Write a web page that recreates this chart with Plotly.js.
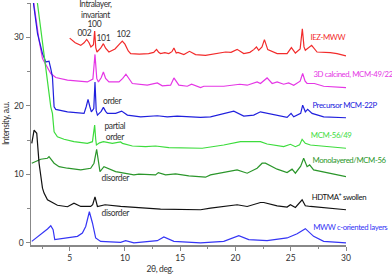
<!DOCTYPE html>
<html><head><meta charset="utf-8">
<script src="https://cdn.plot.ly/plotly-3.0.1.min.js"></script>
<style>html,body{margin:0;padding:0;background:#fff}#c{width:392px;height:277px}
#c .annotation-text{letter-spacing:-0.4px}</style>
</head><body><div id="c"></div>
<script>
// 2θ (deg) and offset intensity (a.u.)
const iezX = [5.00,5.5,6.00,6.3,6.54,6.75,6.92,7.15,7.26,7.36,7.47,7.8,8.05,8.25,8.55,9.1,9.5,9.76,10.0,10.3,10.52,11.3,12.14,12.6,12.86,13.05,13.22,13.61,13.97,14.25,14.43,14.64,14.8,15.33,15.84,16.39,17.29,17.74,18.5,19.10,19.6,20.15,20.75,21.3,21.65,21.90,22.10,22.4,22.62,22.92,23.77,24.67,25.06,25.42,25.85,26.05,26.2,26.32,26.89,27.38,28.58,29.19,30.00];
const iezY = [29.88,29.2,28.82,29.2,29.69,29.2,28.58,28.9,30.90,28.5,27.85,28.4,29.07,28.4,27.85,28.3,29.0,29.45,29.0,28.0,27.62,27.55,27.62,27.8,28.24,27.8,27.62,27.76,27.62,27.9,28.43,27.70,27.8,27.47,27.95,27.47,27.35,27.47,27.6,27.85,27.8,28.24,27.62,27.8,28.20,28.58,28.10,28.6,29.65,28.20,27.62,27.62,28.49,27.70,28.3,31.25,28.6,28.10,28.82,27.85,27.76,27.62,27.27];

const calX = [1.6,1.78,2.23,2.54,3.29,3.74,4.80,6.60,7.1,7.29,7.45,7.60,7.85,8.05,8.25,8.55,9.46,9.8,10.09,10.35,10.67,12.02,12.93,13.38,14.13,14.43,14.88,15.64,16.03,16.84,17.14,18.94,20.39,21.06,21.96,22.26,22.86,23.32,23.77,24.36,24.81,25.27,25.85,26.08,26.3,26.48,27.14,27.98,30.0];
const calY = [38,34.64,29.55,26.89,24.71,24.13,23.74,23.49,23.9,27.5,24.0,23.49,24.1,24.94,24.0,23.49,23.49,24.0,24.61,24.0,23.26,23.01,23.34,22.91,23.01,24.07,23.01,22.86,23.15,22.67,22.86,22.86,23.15,23.01,23.49,23.26,24.07,23.26,23.49,23.15,23.34,23.01,23.6,24.71,23.6,23.26,23.26,22.86,22.67];

const preX = [1.6,1.73,2.09,2.54,2.84,3.13,3.29,3.44,3.59,3.74,4.80,6.30,6.5,6.66,6.82,6.96,7.18,7.29,7.40,7.51,7.85,8.05,8.25,8.41,9.16,9.70,10.22,11.42,12.93,13.83,14.73,16.84,17.74,18.94,19.85,20.75,21.65,22.26,22.86,24.07,24.67,25.03,25.27,25.9,26.08,26.32,26.53,26.93,27.98,30.0];
const preY = [38,34.88,30.52,27.62,26.40,26.50,25.44,24.22,19.85,19.48,19.13,18.90,19.9,20.93,19.9,19.13,19.6,23.49,19.3,18.65,19.2,19.77,19.2,18.90,18.90,19.23,18.65,18.40,18.55,18.40,18.50,18.31,18.40,18.90,19.23,18.50,18.65,19.13,18.90,18.50,18.31,18.90,18.40,18.9,20.10,19.13,19.48,18.90,18.40,18.26];

const m49X = [2.0,2.09,2.68,3.29,3.44,3.59,3.89,4.49,5.39,6.60,7.06,7.20,7.26,7.35,7.42,7.7,8.05,8.86,9.6,9.77,10.67,11.87,12.77,13.97,15.19,16.99,18.94,20.45,22.26,22.86,24.36,24.97,25.42,25.8,26.03,26.32,26.78,30.0];
const m49Y = [36,34.88,28.10,19.85,18.90,16.22,15.49,15.12,14.77,14.53,14.77,16.5,17.19,15.2,14.29,14.6,14.77,14.53,14.75,14.53,14.14,14.04,14.14,13.90,13.90,13.81,14.29,14.77,14.77,14.43,14.04,14.39,14.04,14.3,15.12,14.53,14.29,13.81];

const m56X = [1.57,2.38,2.99,3.13,3.59,4.04,4.80,6.00,6.90,7.20,7.44,7.65,7.74,8.10,9.16,10.81,11.26,12.77,13.02,13.68,14.58,15.78,17.29,17.74,19.55,20.15,21.06,21.96,22.41,22.71,23.77,24.67,25.12,25.42,25.9,26.17,26.48,26.71,27.07,30.0];
const m56Y = [11.63,12.21,12.35,12.59,11.63,11.13,10.90,10.65,10.90,11.63,13.66,11.63,10.41,11.13,10.41,9.93,10.03,9.93,10.26,9.93,10.07,9.78,9.59,9.93,10.41,10.65,10.17,10.90,11.63,11.63,10.76,10.26,10.76,10.17,11.2,12.35,11.13,11.38,10.65,9.68];

const hdX = [1.57,1.78,2.02,2.23,2.54,2.68,2.99,3.89,4.80,5.39,6.00,6.90,7.08,7.29,7.51,8.2,9.61,11.42,13.22,16.84,17.74,20.15,21.06,22.26,22.56,23.77,24.67,24.97,25.42,26.03,26.32,26.78,30.0];
const hdY = [14.53,16.47,15.99,11.63,7.99,7.27,6.29,5.50,5.28,5.81,5.32,5.32,5.57,6.73,5.32,5.57,5.32,5.09,4.94,4.84,5.09,5.57,5.32,5.90,5.90,5.42,5.23,5.57,5.17,6.29,5.42,5.32,4.84];

const mwwX = [1.57,2.38,2.99,3.29,3.50,3.65,4.80,5.70,6.15,6.45,6.78,7.06,7.35,7.80,9.61,10.06,10.81,12.93,13.52,14.43,16.84,18.94,20.30,21.20,22.86,24.67,25.58,26.32,27.07,27.98,30.0];
const mwwY = [0.23,1.21,2.03,2.51,1.93,0.48,0.73,0.96,1.45,2.41,4.55,2.91,0.73,0.23,0.09,0.33,0.0,0.33,0.87,0.23,0.0,0.23,1.06,0.48,0.33,0.73,1.35,2.08,0.96,0.23,0.0];

const seriesNames = ["IEZ-MWW","3D calcined, MCM-49/22","Precursor MCM-22P","MCM-56/49","Monolayered/MCM-56","HDTMA<sup>+</sup> swollen","MWW c-oriented layers"];
const labelY = [30.03,24.61,20.10,15.74,12.11,6.77,2.33];
const colors = ["#f22b2b","#e536e5","#2020dd","#3ddc3d","#2b962b","#111111","#3535f5"];
const xs = [iezX,calX,preX,m49X,m56X,hdX,mwwX];
const ys = [iezY,calY,preY,m49Y,m56Y,hdY,mwwY];

const notes = ["Intralayer,<br>invariant","100","002","101","102","order","partial<br>order","disorder","disorder"];
const noteX = [7.36,7.26,6.36,8.08,9.88,8.89,9.07,9.16,9.16];
const noteY = [34.1,31.87,30.57,29.94,30.42,20.68,16.22,9.45,4.36];

const FONT = "Lato, 'Liberation Sans', Arial, sans-serif";
const traces = xs.map((x,i)=>({x:x,y:ys[i],type:"scatter",mode:"lines",line:{color:colors[i],width:1.2},hoverinfo:"skip"}));
const ann = [];
seriesNames.forEach((t,i)=>ann.push({x:0.883,y:labelY[i],xref:"paper",yref:"y",text:t,showarrow:false,xanchor:"left",yanchor:"middle",borderpad:0,borderwidth:0,font:{family:FONT,size:7.8,color:colors[i]}}));
notes.forEach((t,i)=>ann.push({x:noteX[i],y:noteY[i],xref:"x",yref:"y",text:t,showarrow:false,xanchor:"center",yanchor:"middle",font:{family:FONT,size:8.5,color:"#333"}}));
ann.push({x:0.409,y:-0.1,xref:"paper",yref:"paper",text:"2θ, deg.",showarrow:false,xanchor:"center",yanchor:"middle",font:{family:FONT,size:8.5,color:"#333"}});
ann.push({x:-0.079,y:0.5,xref:"paper",yref:"paper",text:"Intensity, a.u.",textangle:-90,showarrow:false,xanchor:"center",yanchor:"middle",font:{family:FONT,size:8.5,color:"#333"}});

const layout = {
  width:392,height:277,margin:{l:31,r:45.5,t:2.5,b:31.6},
  paper_bgcolor:"#fff",plot_bgcolor:"#fff",showlegend:false,
  xaxis:{range:[1.5,30],tick0:0,dtick:5,ticks:"outside",ticklen:4,tickcolor:"#888",tickwidth:1,
    showline:true,linecolor:"#888",linewidth:1.5,showgrid:false,zeroline:false,
    tickfont:{family:FONT,size:8.5,color:"#333"},
    minor:{dtick:2.5,tick0:0,ticks:"outside",ticklen:2.5,tickcolor:"#888",showgrid:false}},
  yaxis:{range:[-0.3,35],tick0:0,dtick:10,ticks:"outside",ticklen:4,tickcolor:"#888",tickwidth:1,
    showline:true,linecolor:"#888",linewidth:1.5,showgrid:false,zeroline:false,
    tickfont:{family:FONT,size:8.5,color:"#333"},
    minor:{dtick:5,tick0:0,ticks:"outside",ticklen:2.5,tickcolor:"#888",showgrid:false}},
  annotations:ann
};
Plotly.newPlot("c",traces,layout,{staticPlot:true,displayModeBar:false});
</script></body></html>
